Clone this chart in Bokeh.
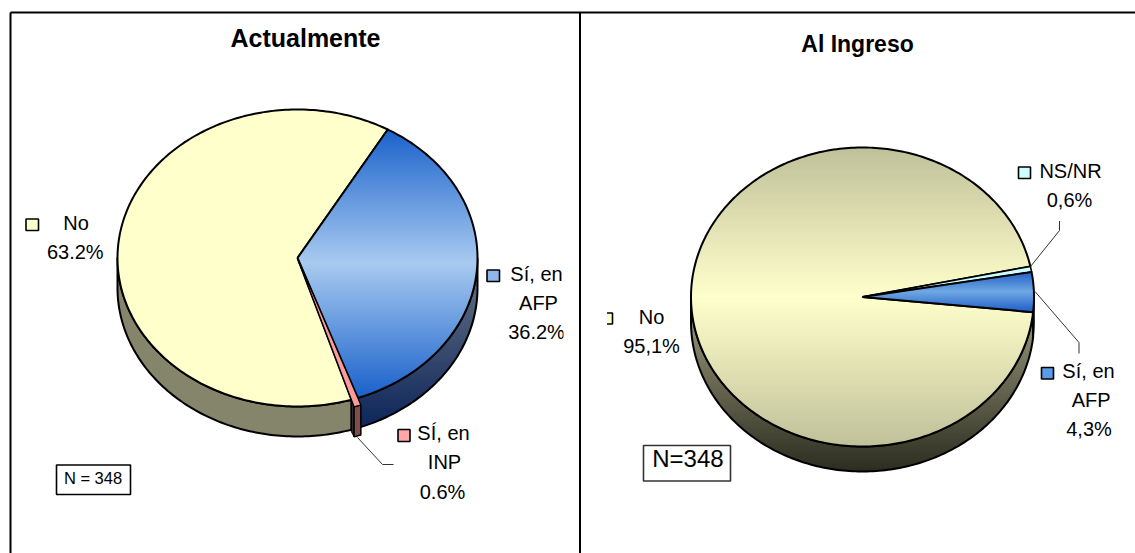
import math
from bokeh.plotting import figure
from bokeh.models import Range1d
from bokeh.core.properties import value
from bokeh.embed import file_html
from bokeh.resources import INLINE

# --- data ---
now_labels = ["Sí, en AFP", "SÍ, en INP", "No"]
now_values = [36.2, 0.6, 63.2]
now_start_angle = 30.1
entry_labels = ["NS/NR", "Sí, en AFP", "No"]
entry_values = [0.6, 4.3, 95.1]
entry_start_angle = 78.2
title_now = "Actualmente"
title_entry = "Al Ingreso"
n_now = "N = 348"
n_entry = "N=348"

FONT = value("Liberation Sans")
W, H = 1135, 553
p = figure(width=W, height=H, x_range=Range1d(0, W), y_range=Range1d(H, 0),
           output_backend="svg", toolbar_location=None, min_border=0,
           background_fill_color="white", border_fill_color="white", outline_line_color=None)
p.axis.visible = False
p.grid.visible = False


def hex2rgb(c):
    return tuple(int(c[i:i + 2], 16) for i in (1, 3, 5))


def mix(a, b, f):
    f = max(0.0, min(1.0, f))
    ra, rb = hex2rgb(a), hex2rgb(b)
    return "#%02x%02x%02x" % tuple(round(ra[i] + (rb[i] - ra[i]) * f) for i in range(3))


def arc(g, t0, t1, scale=1.0, dy=0.0):
    n = max(3, int(abs(t1 - t0) / 1.0) + 2)
    pts = []
    for i in range(n):
        t = math.radians(t0 + (t1 - t0) * i / (n - 1))
        pts.append((g["cx"] + g["rx"] * scale * math.sin(t),
                    g["cy"] - g["ry"] * scale * math.cos(t) + dy))
    return pts


def clip(poly, y0, y1):
    def cut(points, inside, cross):
        out = []
        for i, a in enumerate(points):
            b = points[(i + 1) % len(points)]
            ia, ib = inside(a), inside(b)
            if ia:
                out.append(a)
            if ia != ib:
                out.append(cross(a, b))
        return out

    def at(level):
        def f(a, b):
            u = (level - a[1]) / (b[1] - a[1])
            return (a[0] + (b[0] - a[0]) * u, level)
        return f
    r = cut(poly, lambda q: q[1] >= y0, at(y0))
    if r:
        r = cut(r, lambda q: q[1] <= y1, at(y1))
    return r


def striped(poly, colour_at, step=2.0):
    ys = [q[1] for q in poly]
    xs_all, ys_all, cols = [], [], []
    y = min(ys)
    while y < max(ys):
        part = clip(poly, y, y + step + 0.7)
        if len(part) >= 3:
            xs_all.append([q[0] for q in part])
            ys_all.append([q[1] for q in part])
            cols.append(colour_at(y + step / 2))
        y += step
    p.patches(xs_all, ys_all, fill_color=cols, line_color=None)


def outline(poly, width=2.0, colour="black"):
    xs = [q[0] for q in poly] + [poly[0][0]]
    ys = [q[1] for q in poly] + [poly[0][1]]
    p.line(xs, ys, line_color=colour, line_width=width, line_join="round")


def angles(values, start):
    out, t = [], start
    for v in values:
        out.append((t, t + v * 3.6))
        t += v * 3.6
    return out


def centre_ramp(edge, mid, y0, y1):
    c, h = (y0 + y1) / 2, (y1 - y0) / 2
    return lambda y: mix(mid, edge, abs(y - c) / h)


def texts(items, size, bold=False):
    # items give the wanted baseline; the text is anchored on its middle
    p.text([i[0] for i in items], [i[1] - 0.36 * size for i in items], text=[i[2] for i in items],
           text_font=FONT, text_font_size=f"{size}px", text_align="center", text_baseline="middle",
           text_color="black", text_font_style="bold" if bold else "normal")


def key(x0, x1, y0, y1, colour):
    p.quad(left=[x0], right=[x1], top=[y0], bottom=[y1], fill_color=colour,
           line_color="black", line_width=1.6)


# ---------- left pie ----------
g = dict(cx=297, cy=257.5, rx=180, ry=148.5, depth=30)
(a0, a1), (b0, b1), (c0, c1) = angles(now_values, now_start_angle)

# walls
wall_no = arc(g, b1, 270) + arc(g, 270, b1, dy=g["depth"])
p.patches([[q[0] for q in wall_no]], [[q[1] for q in wall_no]], fill_color="#85856b", line_color=None)
outline(wall_no)
wall_afp = arc(g, 90, a1) + arc(g, a1, 90, dy=g["depth"])
striped(wall_afp, lambda y: mix("#5f6c80", "#10285c", (y - 280) / 140))
outline(wall_afp)

# No and AFP faces
face_no = [(g["cx"], g["cy"])] + arc(g, b1, c1)
p.patches([[q[0] for q in face_no]], [[q[1] for q in face_no]], fill_color="#ffffcc", line_color=None)
outline(face_no)
face_afp = [(g["cx"], g["cy"])] + arc(g, a0, a1)
striped(face_afp, centre_ramp("#1b62cb", "#a8caf0", 129, 396))
outline(face_afp)

# INP slice, slightly pulled out
k = 1.05
inp_top = [(g["cx"], g["cy"])] + arc(g, a1, b1, k)
cut_face = [inp_top[-1], face_no[1], (face_no[1][0], face_no[1][1] + g["depth"] + 2),
            (inp_top[-1][0], inp_top[-1][1] + g["depth"])]
p.patches([[q[0] for q in cut_face]], [[q[1] for q in cut_face]], fill_color="#2a2a2a", line_color="black", line_width=1)
wall_inp = arc(g, a1, b1, k) + arc(g, b1, a1, k, dy=g["depth"])
p.patches([[q[0] for q in wall_inp]], [[q[1] for q in wall_inp]], fill_color="#804c4c", line_color="black", line_width=1.5)
p.patches([[q[0] for q in inp_top]], [[q[1] for q in inp_top]], fill_color="#ff9a9a", line_color="black", line_width=1.2)

# ---------- right pie ----------
h = dict(cx=862, cy=296.5, rx=171.5, ry=149.5, depth=25)
(n0, n1), (f0, f1), (m0, m1) = angles(entry_values, entry_start_angle)

wall_m = arc(h, m0, 270) + arc(h, 270, m0, dy=h["depth"])
striped(wall_m, lambda y: mix("#88886d", "#2c2c20", (y - 335) / 136))
outline(wall_m)
wall_f = arc(h, 90, f1) + arc(h, f1, 90, dy=h["depth"])
p.patches([[q[0] for q in wall_f]], [[q[1] for q in wall_f]], fill_color="#2b2b22", line_color="black", line_width=1.5)

face_m = [(h["cx"], h["cy"])] + arc(h, m0, m1)
striped(face_m, centre_ramp("#c0c09a", "#ffffcc", 147, 446))
outline(face_m)
face_n = [(h["cx"], h["cy"])] + arc(h, n0, n1)
p.patches([[q[0] for q in face_n]], [[q[1] for q in face_n]], fill_color="#ccffff", line_color="black", line_width=1.6)
face_f = [(h["cx"], h["cy"])] + arc(h, f0, f1)
striped(face_f, centre_ramp("#1f5fc8", "#6fa8e2", 271, 311), step=1.0)
outline(face_f)

# ---------- leader lines ----------
p.multi_line([[357, 382, 393], [1059, 1059, 1030], [1034.5, 1078.5, 1078.5]],
             [[437, 464, 464], [220.5, 230, 266], [291, 342, 353]],
             line_color="#333333", line_width=1)

# ---------- legend keys ----------
key(25.5, 38, 218.5, 230, "#ffffcc")
key(486.5, 499, 269.5, 281, "#8db6ea")
key(397.5, 409.5, 429, 441, "#ffa6a6")
key(1018, 1030, 166.5, 178, "#ccffff")
key(600, 612, 312.5, 323.5, "#ffffcc")
key(1041, 1053, 367, 378.5, "#5b9be6")

# ---------- labels ----------
texts([(75.6, 230, "No"), (74.8, 259, f"{now_values[2]}%"),
       (536, 281, "Sí, en"), (538, 309.7, "AFP"), (536, 339, f"{now_values[0]}%"),
       (443, 440, "SÍ, en"), (444, 469, "INP"), (442, 499, f"{now_values[1]}%"),
       (1070, 178, entry_labels[0]), (1069, 207, f"{entry_values[0]}%".replace(".", ",")),
       (651, 324, "No"), (651, 353, f"{entry_values[2]}%".replace(".", ",")),
       (1088, 378, "Sí, en"), (1090.6, 407, "AFP"), (1088.5, 436, f"{entry_values[1]}%".replace(".", ","))],
      20)

# clipped edges seen in the reference
p.quad(left=[563, 598], right=[578, 606.5], top=[320, 308], bottom=[345, 328],
       fill_color="white", line_color=None)

texts([(305, 46.5, title_now)], 25, bold=True)
texts([(857, 52, title_entry)], 23, bold=True)

# N boxes
p.quad(left=[56], right=[130], top=[464.5], bottom=[494], fill_color="white", line_color="black", line_width=1.6)
p.quad(left=[643], right=[730], top=[445], bottom=[480.5], fill_color="white", line_color="#333333", line_width=1.6)
texts([(92.5, 483, n_now)], 16.5)
texts([(687.4, 467, n_entry)], 24)

# ---------- frame ----------
p.multi_line([[10, 10], [10, W], [579.5, 579.5]], [[H, 12], [12, 12], [12, H]],
             line_color="black", line_width=2)

open("out.html", "w").write(file_html(p, INLINE))
